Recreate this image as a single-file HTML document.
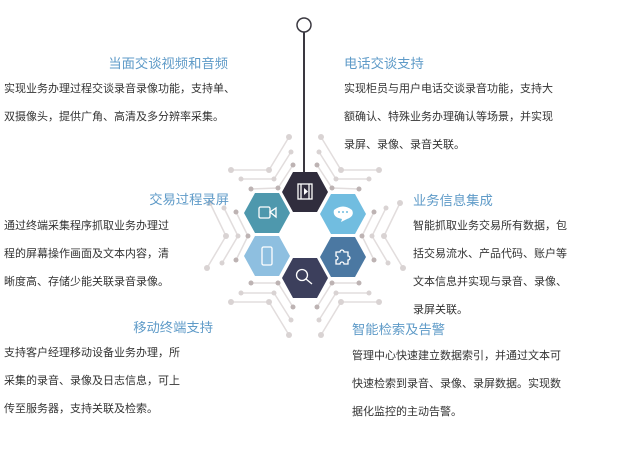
<!DOCTYPE html>
<html><head><meta charset="utf-8"><style>
body{margin:0;width:621px;height:451px;background:#fff;position:relative;overflow:hidden;font-family:"Liberation Sans","Noto Sans CJK SC",sans-serif;}
.t{position:absolute;font-size:13.3px;color:#5f9bc8;white-space:nowrap;line-height:20px}
.b{position:absolute;font-size:11px;letter-spacing:0;color:#333;line-height:28px;white-space:nowrap}
.r{text-align:right}
svg{position:absolute;left:0;top:0}
</style></head><body>
<svg width="621" height="451">
<g stroke="#e2dddd" stroke-width="1.5" fill="none">
<g id="L">
<polyline points="231,170 269,170 289,137"/><polyline points="241,179 274,179 291,152"/><polyline points="251,189 278,188 293,165"/>
<polyline points="210,203 226,236 207,268"/><polyline points="224,208 238,236 222,263"/><polyline points="236,212 248,236 236,260"/>
<polyline points="231,302 269,302 289,335"/><polyline points="241,293 274,293 291,320"/><polyline points="251,283 278,283 293,307"/>
</g>
<use href="#L" transform="translate(610,0) scale(-1,1)"/>
</g>
<g id="D" fill="#d9d3d3">
<circle cx="231" cy="170" r="3"/><circle cx="269" cy="170" r="3"/><circle cx="289" cy="137" r="3"/>
<circle cx="241" cy="179" r="2.5"/><circle cx="274" cy="179" r="2.5"/><circle cx="291" cy="152" r="2.5"/>
<circle cx="251" cy="189" r="2.5" fill="#bdb3b3"/><circle cx="278" cy="188" r="2.5" fill="#bdb3b3"/><circle cx="293" cy="165" r="2.5" fill="#bdb3b3"/>
<circle cx="210" cy="203" r="3"/><circle cx="226" cy="236" r="3"/><circle cx="207" cy="268" r="3"/>
<circle cx="224" cy="208" r="2.5"/><circle cx="238" cy="236" r="2.5"/><circle cx="222" cy="263" r="2.5"/>
<circle cx="236" cy="212" r="2.5" fill="#bdb3b3"/><circle cx="248" cy="236" r="2.5" fill="#bdb3b3"/><circle cx="236" cy="260" r="2.5" fill="#bdb3b3"/>
<circle cx="231" cy="302" r="3"/><circle cx="269" cy="302" r="3"/><circle cx="289" cy="335" r="3"/>
<circle cx="241" cy="293" r="2.5"/><circle cx="274" cy="293" r="2.5"/><circle cx="291" cy="320" r="2.5"/>
<circle cx="251" cy="283" r="2.5" fill="#bdb3b3"/><circle cx="278" cy="283" r="2.5" fill="#bdb3b3"/><circle cx="293" cy="307" r="2.5" fill="#bdb3b3"/>
</g>
<use href="#D" transform="translate(610,0) scale(-1,1)"/>
<line x1="304" y1="32" x2="304" y2="175" stroke="#3a3840" stroke-width="2"/>
<circle cx="304" cy="25" r="7" fill="#fff" stroke="#3a3840" stroke-width="1.5"/>
<defs><polygon id="h" points="-23,0 -12,-20 12,-20 23,0 12,20 -12,20"/></defs>
<use href="#h" x="305" y="192" fill="#302d3d"/>
<use href="#h" x="267" y="213" fill="#4e98ad"/>
<use href="#h" x="343" y="214" fill="#71bde0"/>
<use href="#h" x="267" y="256" fill="#8ebfe0"/>
<use href="#h" x="343" y="257" fill="#4b78a2"/>
<use href="#h" x="305" y="278" fill="#3c3f5c"/>
<g stroke="#fff" stroke-width="1.3" fill="none">
<rect x="298" y="184" width="14" height="15"/><line x1="301" y1="184" x2="301" y2="199"/><line x1="309" y1="184" x2="309" y2="199"/>
<rect x="259" y="207" width="11" height="11" rx="1.5"/><polygon points="270,212 276,208 276,217"/>
<rect x="262" y="247" width="10" height="18" rx="1.5"/>
<circle cx="302" cy="275" r="5.5"/><line x1="306" y1="279" x2="312" y2="284"/>
<path d="M334,210 q9,-7 18,0 q3,6 -5,9 l-6,3 l1,-3 q-10,-2 -8,-9z" fill="#fff" stroke="none"/>
<path d="M336,252 h4 a2,2 0 1 1 4,0 h4 v4 a2,2 0 1 1 0,4 v4 h-4 a2,2 0 1 0 -4,0 h-4 v-4 a2,2 0 1 0 0,-4z"/>
</g>
<g fill="#71bde0"><circle cx="339" cy="212" r="1"/><circle cx="343" cy="212" r="1"/><circle cx="347" cy="212" r="1"/></g>
<polygon points="304,188 308,191.5 304,195" fill="#fff"/>
</svg>
<div class="t r" style="right:393px;top:54px">当面交谈视频和音频</div>
<div class="b" style="left:4px;top:75px">实现业务办理过程交谈录音录像功能，支持单、<br>双摄像头，提供广角、高清及多分辨率采集。</div>
<div class="t" style="left:344px;top:54px">电话交谈支持</div>
<div class="b" style="left:344px;top:75px">实现柜员与用户电话交谈录音功能，支持大<br>额确认、特殊业务办理确认等场景，并实现<br>录屏、录像、录音关联。</div>
<div class="t r" style="right:392px;top:190px">交易过程录屏</div>
<div class="b" style="left:4px;top:212px">通过终端采集程序抓取业务办理过<br>程的屏幕操作画面及文本内容，清<br>晰度高、存储少能关联录音录像。</div>
<div class="t" style="left:413px;top:191px">业务信息集成</div>
<div class="b" style="left:413px;top:212px">智能抓取业务交易所有数据，包<br>括交易流水、产品代码、账户等<br>文本信息并实现与录音、录像、<br>录屏关联。</div>
<div class="t r" style="right:408px;top:318px">移动终端支持</div>
<div class="b" style="left:4px;top:339px">支持客户经理移动设备业务办理，所<br>采集的录音、录像及日志信息，可上<br>传至服务器，支持关联及检索。</div>
<div class="t" style="left:352px;top:320px">智能检索及告警</div>
<div class="b" style="left:352px;top:342px">管理中心快速建立数据索引，并通过文本可<br>快速检索到录音、录像、录屏数据。实现数<br>据化监控的主动告警。</div>
</body></html>
